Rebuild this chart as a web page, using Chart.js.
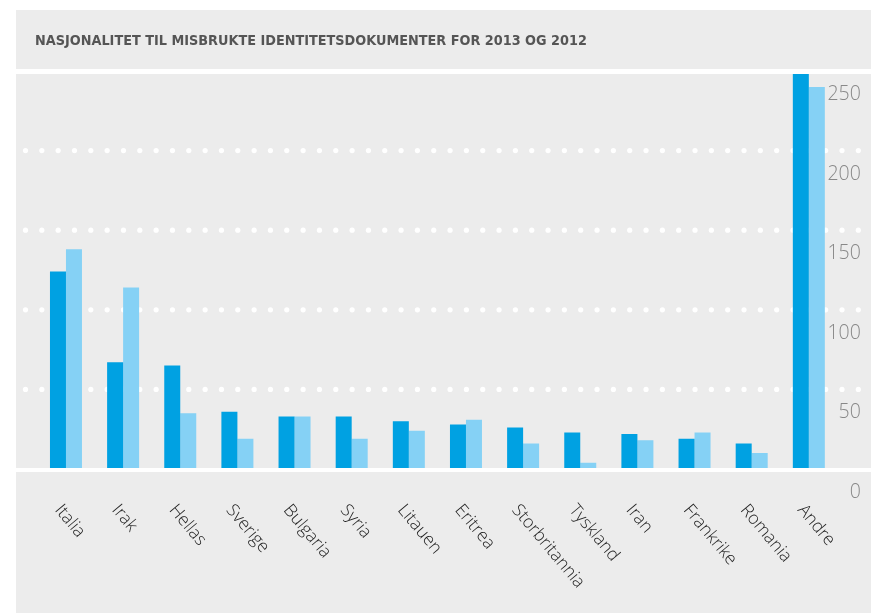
<!DOCTYPE html>
<html>
<head>
<meta charset="utf-8">
<script src="https://cdn.jsdelivr.net/npm/chart.js@4/dist/chart.umd.min.js"></script>
<style>
  html, body { margin: 0; padding: 0; background: #fff; }
  #wrap { width: 878px; height: 613px; position: relative; }
</style>
</head>
<body>
<div id="wrap"><canvas id="idChart"></canvas></div>
<script>
// Data
const countries = ['Italia', 'Irak', 'Hellas', 'Sverige', 'Bulgaria', 'Syria', 'Litauen',
    'Eritrea', 'Storbritannia', 'Tyskland', 'Iran', 'Frankrike', 'Romania', 'Andre'];
const values2013 = [124, 67, 65, 36, 33, 33, 30, 28, 26, 23, 22, 19, 16, 262];
const values2012 = [138, 114, 35, 19, 33, 19, 24, 31, 16, 4, 18, 23, 10, 240];
const yTicks = [0, 50, 100, 150, 200, 250];
const gridValues = [50, 100, 150, 200];
const titleText = 'NASJONALITET TIL MISBRUKTE IDENTITETSDOKUMENTER FOR 2013 OG 2012';

const panelGray = '#ececec';

// backgrounds, dotted grid, title and rotated category labels
const decorPlugin = {
    id: 'decor',
    beforeDraw(chart) {
        const ctx = chart.ctx;
        ctx.save();
        ctx.fillStyle = '#ffffff';
        ctx.fillRect(0, 0, chart.width, chart.height);
        ctx.fillStyle = panelGray;
        ctx.fillRect(16, 10, 855, 59);
        ctx.fillRect(16, 74, 855, 394);
        ctx.fillRect(16, 472, 855, 141);

        // dotted white grid lines
        const y = chart.scales.y;
        ctx.fillStyle = '#ffffff';
        gridValues.forEach(v => {
            const py = y.getPixelForValue(v);
            for (let px = 25.5; px < 862; px += 16.33) {
                ctx.beginPath();
                ctx.arc(px, py, 2.6, 0, Math.PI * 2);
                ctx.fill();
            }
        });

        ctx.fillStyle = '#555555';
        ctx.font = 'bold 14.3px "Liberation Sans Narrow", "DejaVu Sans Condensed", sans-serif';
        ctx.textBaseline = 'middle';
        ctx.textAlign = 'left';
        ctx.fillText(titleText, 35, 41);
        ctx.restore();
    },
    afterDraw(chart) {
        const ctx = chart.ctx;
        const x = chart.scales.x;
        ctx.save();
        ctx.fillStyle = '#1e1e1e';
        ctx.font = '300 17.5px "Open Sans", sans-serif';
        ctx.textAlign = 'left';
        ctx.textBaseline = 'middle';
        countries.forEach((c, i) => {
            const px = x.getPixelForValue(i);
            ctx.save();
            ctx.translate(px - 8, 507);
            ctx.rotate(50 * Math.PI / 180);
            ctx.fillText(c, 0, 0);
            ctx.restore();
        });
        ctx.restore();
    }
};

new Chart(document.getElementById('idChart'), {
    type: 'bar',
    data: {
        labels: countries,
        datasets: [
            {
                label: '2013',
                data: values2013,
                backgroundColor: '#00a1e2',
                clip: { left: 20, top: -3, right: 20, bottom: -1 }
            },
            {
                label: '2012',
                data: values2012,
                backgroundColor: '#85d1f5',
                clip: { left: 20, top: -3, right: 20, bottom: -1 }
            }
        ]
    },
    options: {
        responsive: true,
        maintainAspectRatio: false,
        animation: false,
        layout: {
            padding: { left: 37.4, right: 17, top: 71, bottom: 144 }
        },
        datasets: {
            bar: {
                categoryPercentage: 0.56,
                barPercentage: 1.0
            }
        },
        scales: {
            x: {
                display: false
            },
            y: {
                position: 'right',
                min: 0,
                max: 250,
                afterBuildTicks: (scale) => {
                    scale.ticks = yTicks.map(v => ({ value: v }));
                },
                afterFit: (scale) => {
                    scale.width = 23.6;
                },
                grid: { display: false },
                border: { display: false },
                ticks: {
                    mirror: true,
                    crossAlign: 'near',
                    padding: 23.4,
                    labelOffset: 23.5,
                    color: '#888888',
                    font: { family: '"Open Sans", sans-serif', size: 19.5, weight: '300' }
                }
            }
        },
        plugins: {
            legend: { display: false },
            title: { display: false },
            tooltip: { enabled: false }
        }
    },
    plugins: [decorPlugin]
});
</script>
</body>
</html>
